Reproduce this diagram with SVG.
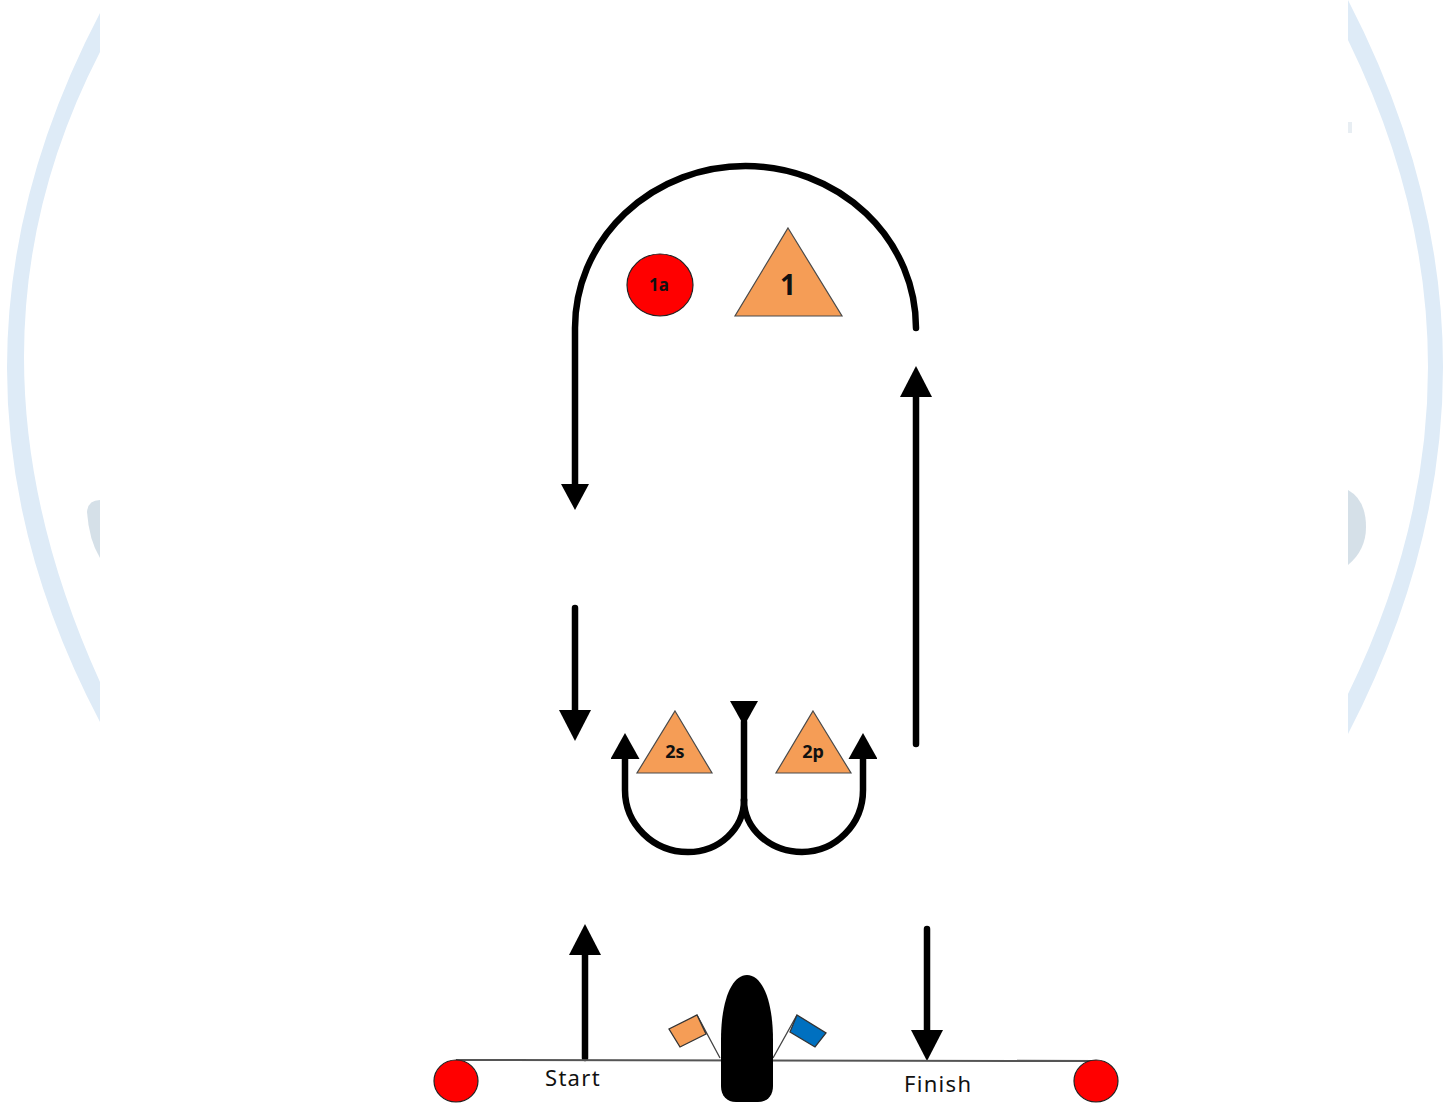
<svg xmlns="http://www.w3.org/2000/svg" width="1455" height="1104" viewBox="0 0 1455 1104">
<style>
.track{fill:none;stroke:#000;stroke-width:6.500;stroke-linecap:round}
.big{marker-end:url(#head)}
.small{marker-end:url(#headSmall)}
.mark{fill:#f59d56;stroke:#4a4a4a;stroke-width:1.200}
.buoy{fill:#f00;stroke:#222;stroke-width:1.200}
.band{fill:#deebf7}
.spot{fill:#d5e0e8}
text{font-family:"Noto Sans","Open Sans","DejaVu Sans",sans-serif;fill:#111}
.lab{font-weight:700;text-anchor:middle}
.cap{font-size:22px;letter-spacing:1.300px}
</style>
<defs>
<marker id="head" markerUnits="userSpaceOnUse" viewBox="0 0 31 32" markerWidth="31" markerHeight="32" refX="0" refY="16" orient="auto"><path d="M0 0L31 16L0 32Z"/></marker>
<marker id="headSmall" markerUnits="userSpaceOnUse" viewBox="0 0 26 29" markerWidth="26" markerHeight="29" refX="0" refY="14.500" orient="auto"><path d="M0 0L26 14.500L0 29Z"/></marker>
</defs>
<g id="background">
<path class="band" d="M100 13Q-86 368 100 722V682Q-52 347 100 52Z"/>
<path class="band" d="M1348 0Q1538 367 1348 734V694Q1508 367 1348 40Z"/>
<path class="spot" d="M100 500Q88 500 87 512Q89 540 100 558Z"/>
<path class="spot" d="M1348 490Q1366 500 1366 527Q1366 550 1348 565Z"/>
<rect x="1348" y="122" width="4" height="11" fill="#e8eef3"/>
</g>
<g id="connectors">
<path class="track" d="M575 486V328A170.500 162 0 0 1 916 328"/>
<path d="M561 484H589L575 510Z"/>
<path class="track big" d="M575 608V710"/>
<path class="track big" d="M916 744V397"/>
<path class="track big" d="M585 1058V955"/>
<path class="track big" d="M927 929V1030"/>
<path class="track" d="M744 722V800"/>
<path d="M730 701H758L744 726Z"/>
<path class="track small" d="M744 800A56 52 0 0 1 688 852A63 62 0 0 1 625 790V759"/>
<path class="track small" d="M744 800A58 52 0 0 0 802 852A61 62 0 0 0 863 790V759"/>
<path d="M456 1060L1096 1061" fill="none" stroke="#555" stroke-width="2"/>
<path d="M697 1015L720 1058M797 1015L773 1058" fill="none" stroke="#444" stroke-width="1.300"/>
</g>
<g id="mark-1"><path class="mark" d="M788 228L842 316H735Z"/><text class="lab" x="788" y="295" font-size="28">1</text></g>
<g id="mark-1a"><ellipse class="buoy" cx="660" cy="285" rx="33" ry="31"/><text class="lab" x="659" y="291" font-size="17">1a</text></g>
<g id="mark-2s"><path class="mark" d="M675 711L712 773H637Z"/><text class="lab" x="675" y="758" font-size="18">2s</text></g>
<g id="mark-2p"><path class="mark" d="M813 711L851 773H776Z"/><text class="lab" x="813" y="758" font-size="18">2p</text></g>
<g id="buoy-start"><ellipse class="buoy" cx="456" cy="1081" rx="22" ry="21"/></g>
<g id="buoy-finish"><ellipse class="buoy" cx="1096" cy="1081" rx="22" ry="21"/></g>
<g id="boat"><path d="M747 975C762 975 773 1000 773 1040V1086C773 1096 767 1102 758 1102H736C727 1102 721 1096 721 1086V1040C721 1000 732 975 747 975Z"/></g>
<g id="flag-orange"><path d="M697 1015L706 1034L680 1047L669 1029Z" fill="#f59d56" stroke="#333" stroke-width="1.300"/></g>
<g id="flag-blue"><path d="M797 1015L826 1033L815 1047L790 1032Z" fill="#0070c0" stroke="#333" stroke-width="1.300"/></g>
<g id="label-start"><text class="cap" x="545" y="1086">Start</text></g>
<g id="label-finish"><text class="cap" x="904" y="1092">Finish</text></g>
</svg>
